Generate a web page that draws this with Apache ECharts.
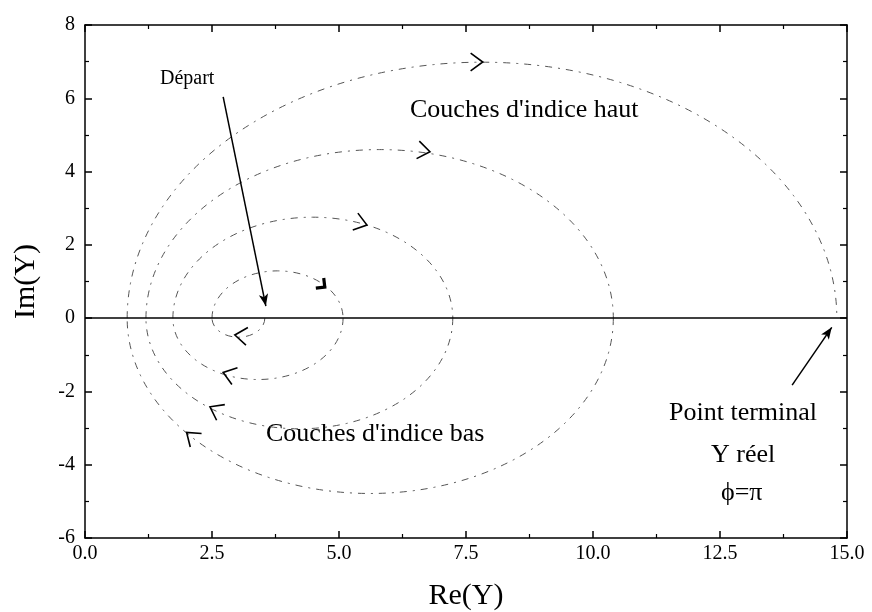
<!DOCTYPE html>
<html>
<head>
<meta charset="utf-8">
<script src="https://cdn.jsdelivr.net/npm/echarts@6/dist/echarts.min.js"></script>
<style>
html, body { margin: 0; background: #fff; }
#chart { width: 872px; height: 612px; }
</style>
</head>
<body>
<div id="chart"></div>
<script>
// Re(Y) where the admittance locus crosses the real axis, in drawing order
const crossings = [3.54, 2.5, 5.08, 1.73, 7.24, 1.2, 10.4, 0.83, 14.8];
// direction arrows, one per arc (arc i goes from crossings[i] to crossings[i+1])
const arrowRe = [2.95, 4.72, 2.72, 5.55, 2.46, 6.79, 2.0, 7.83];
const arrowIm = [-0.46, 0.85, -1.48, 2.54, -2.42, 4.54, -3.12, 6.99];
// annotation pointers [from, to]
const departArrow = [[2.72, 6.04], [3.56, 0.33]];
const terminalArrow = [[13.92, -1.83], [14.7, -0.25]];

const serif = '"Liberation Serif", "DejaVu Serif", serif';
const chart = echarts.init(document.getElementById('chart'));

const arcData = crossings.slice(0, -1).map((x, i) => [x, crossings[i + 1]]);
const arrowData = arrowRe.map((x, i) => [x, arrowIm[i], i]);

function axisBase(extra) {
  return Object.assign({
    type: 'value',
    axisLine: { show: true, onZero: false, lineStyle: { color: '#000', width: 1.5 } },
    axisTick: { show: true, inside: true, length: 7, lineStyle: { color: '#000', width: 1.5 } },
    minorTick: { show: true, splitNumber: 2, length: 4, lineStyle: { color: '#000', width: 1.2 } },
    splitLine: { show: false },
    axisLabel: { color: '#000', fontFamily: serif, fontSize: 20 }
  }, extra);
}

chart.setOption({
  animation: false,
  grid: { left: 85, right: 25, top: 25, bottom: 74, outerBoundsMode: 'none' },
  xAxis: [
    axisBase({
      min: 0, max: 15, interval: 2.5, position: 'bottom',
      axisLabel: { color: '#000', fontFamily: serif, fontSize: 20, margin: 6, formatter: v => v.toFixed(1) },
      name: 'Re(Y)', nameLocation: 'middle', nameGap: 43,
      nameTextStyle: { color: '#000', fontFamily: serif, fontSize: 30 }
    }),
    axisBase({ min: 0, max: 15, interval: 2.5, position: 'top', axisLabel: { show: false } })
  ],
  yAxis: [
    axisBase({
      min: -6, max: 8, interval: 2, position: 'left',
      axisLabel: { color: '#000', fontFamily: serif, fontSize: 20, margin: 10 },
      name: 'Im(Y)', nameLocation: 'middle', nameGap: 44, nameRotate: 90,
      nameTextStyle: { color: '#000', fontFamily: serif, fontSize: 30 }
    }),
    axisBase({ min: -6, max: 8, interval: 2, position: 'right', axisLabel: { show: false } })
  ],
  series: [
    {
      // half circles of the spiral, drawn clockwise
      type: 'custom',
      data: arcData,
      encode: { x: [0, 1] },
      renderItem: function (params, api) {
        const x1 = api.value(0), x2 = api.value(1);
        const p1 = api.coord([x1, 0]), p2 = api.coord([x2, 0]);
        const r = Math.abs(x2 - x1) / 2;
        const sz = api.size([r, r]);
        return {
          type: 'path',
          shape: { pathData: 'M' + p1[0] + ' ' + p1[1] + ' A' + sz[0] + ' ' + sz[1] + ' 0 0 1 ' + p2[0] + ' ' + p2[1] },
          style: { fill: 'none', stroke: '#555', lineWidth: 1, lineDash: [7, 6, 2, 6] }
        };
      }
    },
    {
      // chevrons showing the direction of travel
      type: 'custom',
      data: arrowData,
      encode: { x: 0, y: 1 },
      renderItem: function (params, api) {
        const i = api.value(2);
        const c = (crossings[i] + crossings[i + 1]) / 2;
        const r = Math.abs(crossings[i + 1] - crossings[i]) / 2;
        const p = api.coord([api.value(0), api.value(1)]);
        const o = api.coord([c, 0]);
        const sz = api.size([r, r]);
        const vx = p[0] - o[0], vy = p[1] - o[1];
        let tx = -vy * sz[0] / sz[1], ty = vx * sz[1] / sz[0];
        const n = Math.hypot(tx, ty);
        const bx = -tx / n, by = -ty / n;
        const bold = i === 1;
        const L = bold ? 9 : 15, a = bold ? Math.PI / 4 : Math.PI / 5;
        const ca = Math.cos(a), sa = Math.sin(a);
        const w1 = [p[0] + L * (bx * ca - by * sa), p[1] + L * (bx * sa + by * ca)];
        const w2 = [p[0] + L * (bx * ca + by * sa), p[1] + L * (-bx * sa + by * ca)];
        return {
          type: 'polyline',
          shape: { points: [w1, p, w2] },
          style: { fill: 'none', stroke: '#000', lineWidth: bold ? 3.2 : 1.6 }
        };
      }
    },
    {
      type: 'line',
      data: [],
      markLine: {
        silent: true,
        symbol: ['none', 'none'],
        label: { show: false },
        lineStyle: { color: '#000', width: 1.5, type: 'solid' },
        data: [
          { yAxis: 0 },
          [{ coord: departArrow[0], symbol: 'none' }, { coord: departArrow[1], symbol: 'arrow', symbolSize: [7, 12] }],
          [{ coord: terminalArrow[0], symbol: 'none' }, { coord: terminalArrow[1], symbol: 'arrow', symbolSize: [7, 12] }]
        ]
      }
    }
  ],
  graphic: [
    { type: 'text', left: 160, top: 69, style: { text: 'Départ', font: '20px ' + serif, fill: '#000' } },
    { type: 'text', left: 410, top: 97, style: { text: "Couches d'indice haut", font: '26px ' + serif, fill: '#000' } },
    { type: 'text', left: 266, top: 421, style: { text: "Couches d'indice bas", font: '26px ' + serif, fill: '#000' } },
    { type: 'text', left: 669, top: 400, style: { text: 'Point terminal', font: '26px ' + serif, fill: '#000' } },
    { type: 'text', left: 711, top: 442, style: { text: 'Y réel', font: '26px ' + serif, fill: '#000' } },
    { type: 'text', left: 721, top: 480, style: { text: 'ϕ=π', font: '26px ' + serif, fill: '#000' } }
  ]
});
</script>
</body>
</html>
